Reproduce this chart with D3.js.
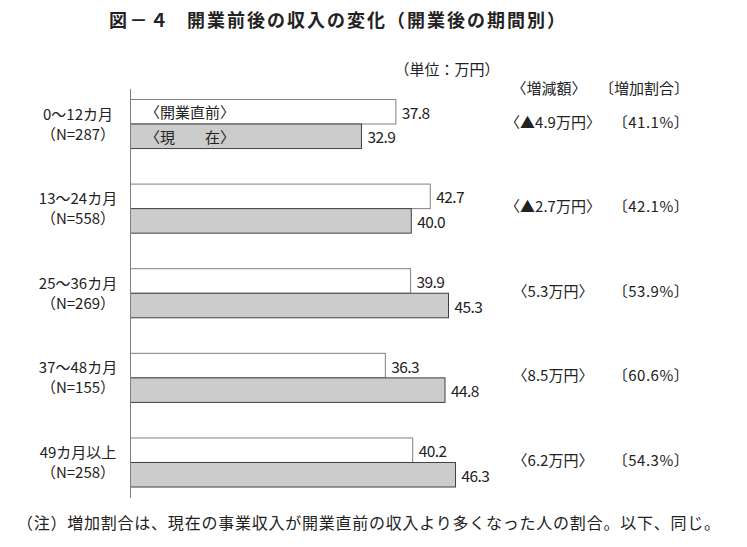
<!DOCTYPE html>
<html>
<head>
<meta charset="utf-8">
<script src="https://cdn.jsdelivr.net/npm/d3@7"></script>
<style>
  html, body { margin: 0; padding: 0; background: #fff; }
  svg { display: block; }
  text { font-family: "Noto Sans CJK JP", "Noto Sans", sans-serif; fill: #222; }
</style>
</head>
<body>
<svg id="chart" width="747" height="547"></svg>
<script>
// ---- data ----
const categories = ["0～12カ月", "13～24カ月", "25～36カ月", "37～48カ月", "49カ月以上"];
const sampleSizes = ["（N=287）", "（N=558）", "（N=269）", "（N=155）", "（N=258）"];
const series = ["〈開業直前〉", "〈現　　在〉"];
const beforeValues = [37.8, 42.7, 39.9, 36.3, 40.2];
const currentValues = [32.9, 40.0, 45.3, 44.8, 46.3];
const changeLabels = ["〈▲4.9万円〉", "〈▲2.7万円〉", "〈5.3万円〉", "〈8.5万円〉", "〈6.2万円〉"];
const shareLabels = ["〔41.1%〕", "〔42.1%〕", "〔53.9%〕", "〔60.6%〕", "〔54.3%〕"];
const titleText = "開業前後の収入の変化（開業後の期間別）";
const unitText = "（単位：万円）";
const changeHeader = "〈増減額〉";
const shareHeader = "〔増加割合〕";
const noteText = "（注）増加割合は、現在の事業収入が開業直前の収入より多くなった人の割合。以下、同じ。";

const rows = categories.map((c, i) => ({
  cat: c, n: sampleSizes[i],
  vals: [{s: series[0], v: beforeValues[i]}, {s: series[1], v: currentValues[i]}],
  change: changeLabels[i], share: shareLabels[i]
}));

// ---- layout ----
const svg = d3.select("#chart");
const x = d3.scaleLinear().domain([0, 50]).range([130.5, 481.5]);
const y = d3.scaleBand().domain(categories).range([81.7, 504.8]).paddingInner(0.42).paddingOuter(0.21);
const ys = d3.scaleBand().domain(series).range([0, y.bandwidth()]);

// title
svg.append("text").attr("x", 109).attr("y", 19).attr("dominant-baseline", "central")
  .style("font-size", "18px").style("font-weight", "bold").style("letter-spacing", "2.5px")
  .text("図－４");
svg.append("text").attr("x", 187).attr("y", 19).attr("dominant-baseline", "central")
  .style("font-size", "18px").style("font-weight", "bold")
  .attr("textLength", 378).attr("lengthAdjust", "spacing")
  .text(titleText);

// unit + headers
svg.append("text").attr("x", 447).attr("y", 68).attr("text-anchor", "middle")
  .attr("dominant-baseline", "central").style("font-size", "15px").text(unitText);
svg.append("text").attr("x", 549).attr("y", 87).attr("text-anchor", "middle")
  .attr("dominant-baseline", "central").style("font-size", "15px").text(changeHeader);
svg.append("text").attr("x", 644).attr("y", 87).attr("text-anchor", "middle")
  .attr("dominant-baseline", "central").style("font-size", "15px").text(shareHeader);

// groups
const g = svg.selectAll("g.row").data(rows).join("g").attr("class", "row")
  .attr("transform", d => `translate(0,${y(d.cat)})`);

g.selectAll("rect").data(d => d.vals).join("rect")
  .attr("x", x(0))
  .attr("y", d => ys(d.s))
  .attr("width", d => x(d.v) - x(0))
  .attr("height", ys.bandwidth())
  .attr("fill", (d, i) => i === 0 ? "#ffffff" : "#cccccc")
  .attr("stroke", (d, i) => i === 0 ? "#808080" : "#404040")
  .attr("stroke-width", 1);

g.selectAll("text.val").data(d => d.vals).join("text").attr("class", "val")
  .attr("x", d => x(d.v) + 6)
  .attr("y", d => ys(d.s) + ys.bandwidth() / 2)
  .attr("dominant-baseline", "central")
  .style("font-size", "15.5px").style("letter-spacing", "-0.6px")
  .text(d => d.v.toFixed(1));

// category labels
g.append("text").attr("x", 78).attr("y", y.bandwidth() / 2 - 11)
  .attr("text-anchor", "middle").attr("dominant-baseline", "central")
  .style("font-size", "15px").text(d => d.cat);
g.append("text").attr("x", 78).attr("y", y.bandwidth() / 2 + 9)
  .attr("text-anchor", "middle").attr("dominant-baseline", "central")
  .style("font-size", "15px").text(d => d.n);

// change / share columns
g.append("text").attr("x", 553).attr("y", y.bandwidth() / 2 - 3)
  .attr("text-anchor", "middle").attr("dominant-baseline", "central")
  .style("font-size", "15px").text(d => d.change);
g.append("text").attr("x", 651).attr("y", y.bandwidth() / 2 - 3)
  .attr("text-anchor", "middle").attr("dominant-baseline", "central")
  .style("font-size", "15px").style("letter-spacing", "0.5px").text(d => d.share);

// series labels inside first group's bars
const first = rows[0];
svg.append("g").selectAll("text").data(first.vals).join("text")
  .attr("x", 145)
  .attr("y", d => y(first.cat) + ys(d.s) + ys.bandwidth() / 2)
  .attr("dominant-baseline", "central")
  .style("font-size", "15px")
  .text(d => d.s);

// vertical axis line
svg.append("line").attr("x1", x(0)).attr("x2", x(0)).attr("y1", 89).attr("y2", 498)
  .attr("stroke", "#808080").attr("stroke-width", 1);

// footnote
svg.append("text").attr("x", 17).attr("y", 522).attr("dominant-baseline", "central")
  .style("font-size", "16px").attr("textLength", 703).attr("lengthAdjust", "spacing")
  .text(noteText);
</script>
</body>
</html>
